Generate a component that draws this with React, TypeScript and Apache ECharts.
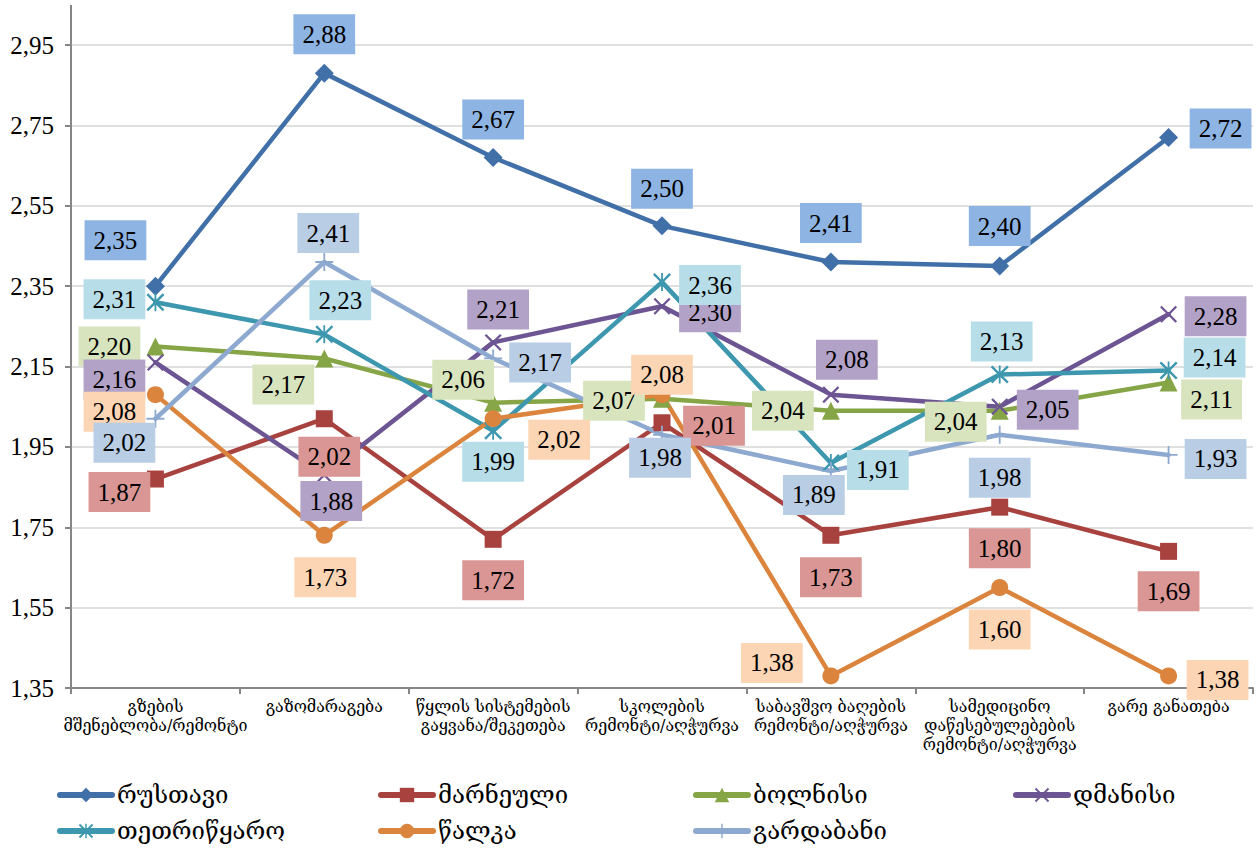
import React, { useEffect, useRef } from "react";
import * as echarts from "echarts";

// ---- data ----
const categories = [
  "გზების\nმშენებლობა/რემონტი",
  "გაზომარაგება",
  "წყლის სისტემების\nგაყვანა/შეკეთება",
  "სკოლების\nრემონტი/აღჭურვა",
  "საბავშვო ბაღების\nრემონტი/აღჭურვა",
  "სამედიცინო\nდაწესებულებების\nრემონტი/აღჭურვა",
  "გარე განათება",
];

const seriesNames = ["რუსთავი", "მარნეული", "ბოლნისი", "დმანისი", "თეთრიწყარო", "წალკა", "გარდაბანი"];

const rustavi = [2.35, 2.88, 2.67, 2.5, 2.41, 2.4, 2.72];
const marneuli = [1.87, 2.02, 1.72, 2.01, 1.73, 1.8, 1.69];
const bolnisi = [2.2, 2.17, 2.06, 2.07, 2.04, 2.04, 2.11];
const dmanisi = [2.16, 1.88, 2.21, 2.3, 2.08, 2.05, 2.28];
const tetritskaro = [2.31, 2.23, 1.99, 2.36, 1.91, 2.13, 2.14];
const tsalka = [2.08, 1.73, 2.02, 2.08, 1.38, 1.6, 1.38];
const gardabani = [2.02, 2.41, 2.17, 1.98, 1.89, 1.98, 1.93];

const yMin = 1.35;
const yMax = 2.95;
const yStep = 0.2;

// ---- label placement (layout, px offsets from each marker) ----
const rustaviLabelOffsets = [[-40, -46], [0, -39], [0, -38], [0, -37], [0, -39], [0, -40], [52, -9]];
const marneuliLabelOffsets = [[-36, 13], [5, 38], [0, 41], [52, 3], [0, 42], [0, 41], [0, 40]];
const bolnisiLabelOffsets = [[-46, 0], [-41, 26], [-30, -23], [-48, 2], [-48, 0], [-44, 11], [43, 17]];
const dmanisiLabelOffsets = [[-41, 17], [7, 26], [5, -33], [48, 6], [16, -35], [48, 3], [47, 2]];
const tetritskaroLabelOffsets = [[-41, -3], [16, -34], [0, 31], [48, 3], [47, 7], [2, -33], [46, -13]];
const tsalkaLabelOffsets = [[-41, 17], [1, 42], [66, 21], [0, -20], [-59, -13], [0, 42], [49, 4]];
const gardabaniLabelOffsets = [[-31, 24], [4, -29], [47, 4], [-2, 23], [-17, 24], [0, 43], [47, 4]];

const X_SYMBOL =
  "path://M1.5,0 L8,6.5 L14.5,0 L16,1.5 L9.5,8 L16,14.5 L14.5,16 L8,9.5 L1.5,16 L0,14.5 L6.5,8 L0,1.5 Z";
const STAR_SYMBOL =
  "path://M1.5,0 L8,6.5 L14.5,0 L16,1.5 L9.5,8 L16,14.5 L14.5,16 L8,9.5 L1.5,16 L0,14.5 L6.5,8 L0,1.5 Z M7.2,0 L8.8,0 L8.8,16 L7.2,16 Z";
const PLUS_SYMBOL =
  "path://M7.2,0 L8.8,0 L8.8,7.2 L16,7.2 L16,8.8 L8.8,8.8 L8.8,16 L7.2,16 L7.2,8.8 L0,8.8 L0,7.2 L7.2,7.2 Z";

const styles = [
  { values: rustavi, offsets: rustaviLabelOffsets, color: "#4170A8", bg: "#8EB4E3", symbol: "diamond", size: 19 },
  { values: marneuli, offsets: marneuliLabelOffsets, color: "#A8423F", bg: "#D99694", symbol: "rect", size: 17 },
  { values: bolnisi, offsets: bolnisiLabelOffsets, color: "#86A546", bg: "#D7E4BD", symbol: "triangle", size: 18 },
  { values: dmanisi, offsets: dmanisiLabelOffsets, color: "#6D5492", bg: "#B3A2C7", symbol: X_SYMBOL, size: 17 },
  { values: tetritskaro, offsets: tetritskaroLabelOffsets, color: "#3D97AE", bg: "#B7DEE8", symbol: STAR_SYMBOL, size: 18 },
  { values: tsalka, offsets: tsalkaLabelOffsets, color: "#DB843D", bg: "#FCD5B5", symbol: "circle", size: 17 },
  { values: gardabani, offsets: gardabaniLabelOffsets, color: "#8EA9D0", bg: "#B9CDE5", symbol: PLUS_SYMBOL, size: 18 },
];

const legendPos = [
  { left: 57, top: 783 },
  { left: 378, top: 783 },
  { left: 693, top: 783 },
  { left: 1013, top: 783 },
  { left: 57, top: 819 },
  { left: 378, top: 819 },
  { left: 693, top: 819 },
];

const fmt = (v: number) => v.toFixed(2).replace(".", ",");
const GEO_FONT = "DejaVu Serif";
const NUM_FONT = "Times New Roman";

export default function App() {
  const ref = useRef<HTMLDivElement>(null);

  useEffect(() => {
    document.body.style.margin = "0";
    if (!ref.current) return;
    const chart = echarts.init(ref.current, undefined, { renderer: "svg" });

    const series = styles.map((s, si) => ({
      name: seriesNames[si],
      type: "line",
      data: s.values.map((v, i) => ({
        value: v,
        label: { offset: s.offsets[i] },
      })),
      symbol: s.symbol,
      symbolSize: s.size,
      showAllSymbol: true,
      color: s.color,
      itemStyle: { color: s.color },
      lineStyle: { color: s.color, width: 4.5, join: "round", cap: "round" },
      label: {
        show: true,
        position: "inside",
        formatter: (p: any) => fmt(p.value),
        backgroundColor: s.bg,
        padding: [7, 9, 6, 9],
        fontSize: 25,
        lineHeight: 27,
        fontFamily: NUM_FONT,
        color: "#000",
      },
      emphasis: { disabled: true },
      z: 2,
    }));

    const option: any = {
      animation: false,
      backgroundColor: "#fff",
      grid: { left: 71, right: 4, top: 45, bottom: 166, containLabel: false },
      xAxis: {
        type: "category",
        data: categories,
        boundaryGap: true,
        axisLine: { show: true, lineStyle: { color: "#868686", width: 2 } },
        axisTick: { show: true, length: 6, lineStyle: { color: "#868686", width: 2 } },
        axisLabel: {
          interval: 0,
          margin: 9,
          fontSize: 16,
          lineHeight: 19,
          fontFamily: GEO_FONT,
          color: "#000",
        },
        splitLine: { show: false },
      },
      yAxis: {
        type: "value",
        min: yMin,
        max: yMax,
        interval: yStep,
        axisLine: { show: true, lineStyle: { color: "#868686", width: 2 } },
        axisTick: { show: true, length: 6, lineStyle: { color: "#868686", width: 2 } },
        axisLabel: {
          margin: 17,
          fontSize: 25,
          fontFamily: NUM_FONT,
          color: "#000",
          formatter: (v: number) => fmt(v),
        },
        splitLine: { show: true, lineStyle: { color: "#D6D6D6", width: 1.5 } },
      },
      legend: seriesNames.map((n, i) => ({
        data: [n],
        left: legendPos[i].left,
        top: legendPos[i].top,
        itemWidth: 52,
        itemHeight: 18,
        padding: 0,
        lineStyle: { width: 6, cap: "round" },
        textStyle: { fontSize: 24, fontFamily: GEO_FONT, color: "#000" },
        selectedMode: false,
      })),
      graphic: [
        {
          type: "line",
          shape: { x1: 71, y1: 5, x2: 71, y2: 45 },
          style: { stroke: "#868686", lineWidth: 2 },
        },
      ],
      series,
    };

    chart.setOption(option);
    return () => chart.dispose();
  }, []);

  return <div ref={ref} style={{ width: 1257, height: 854 }} />;
}
